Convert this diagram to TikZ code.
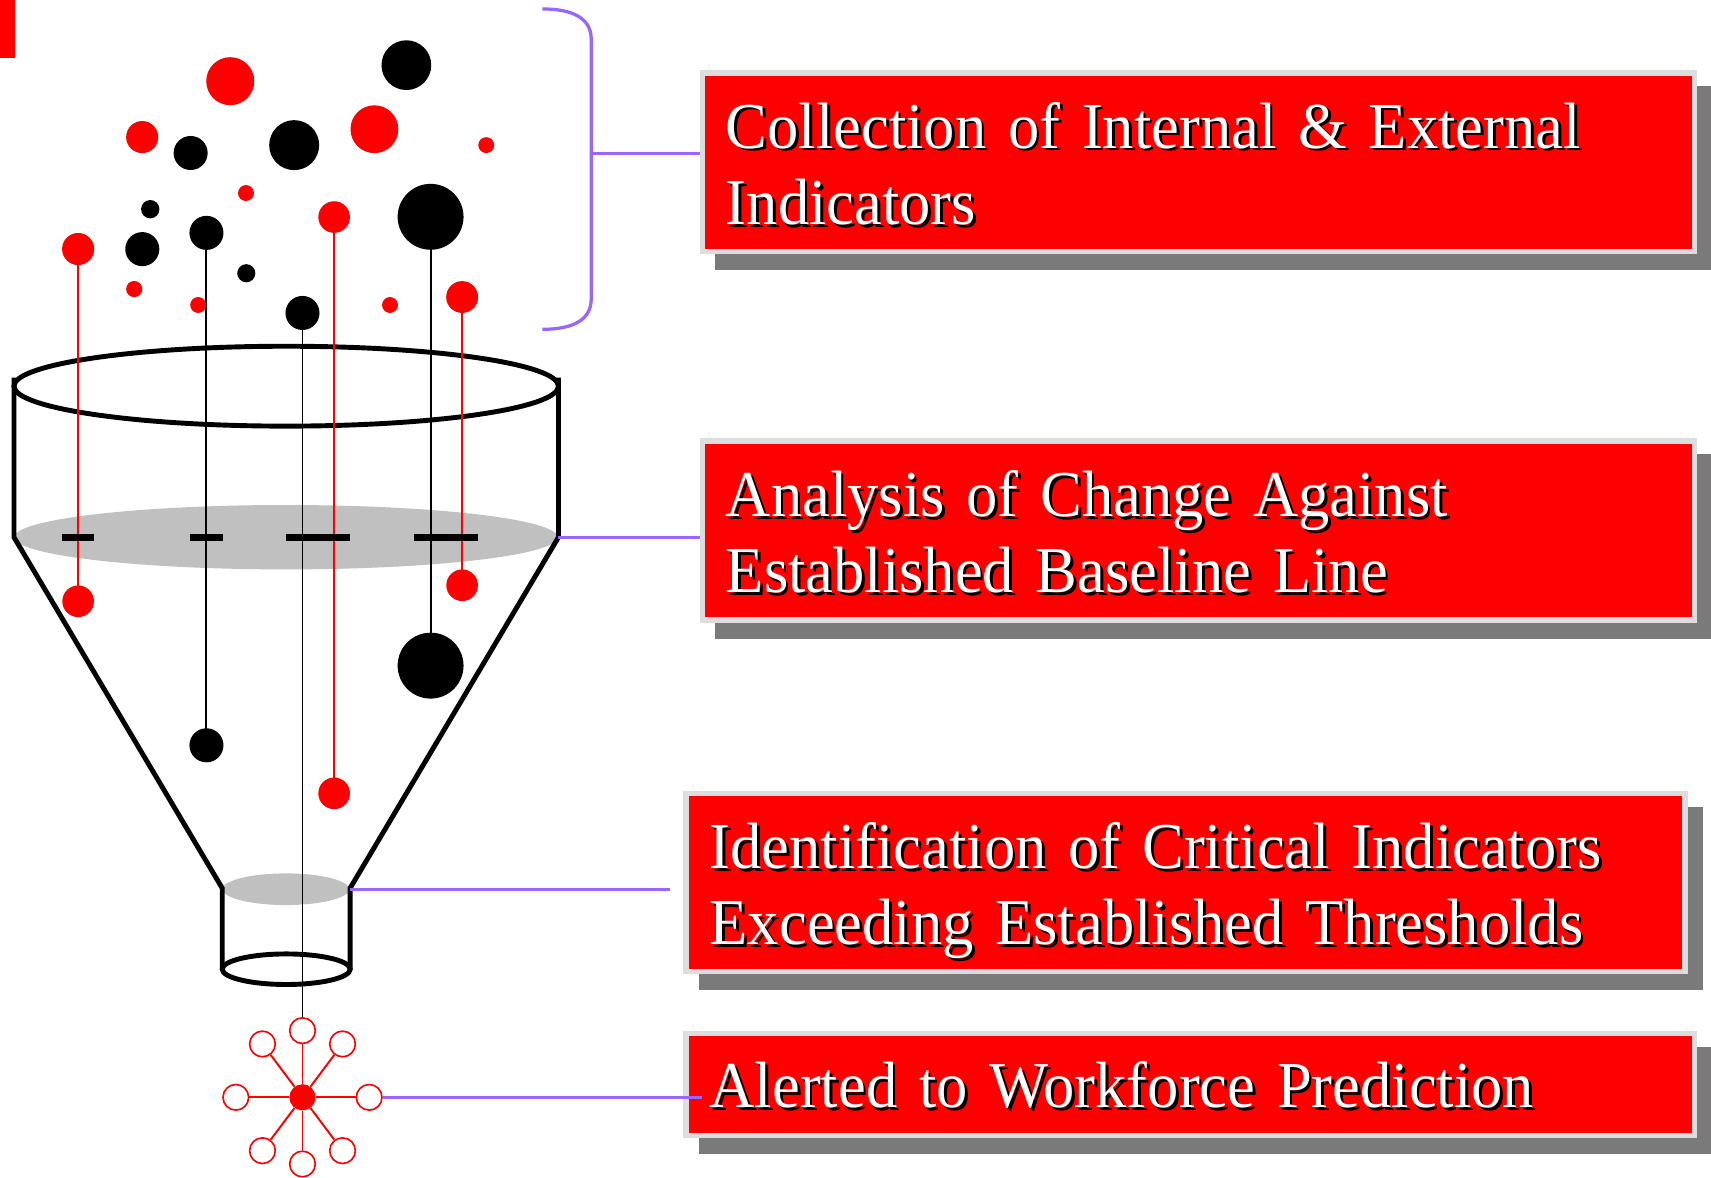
\documentclass[tikz,border=0pt]{standalone}
\usepackage{fontspec}
\setmainfont{Liberation Serif}[FakeStretch=0.955]
\usetikzlibrary{backgrounds}
\definecolor{linkpurple}{HTML}{9966FF}
\definecolor{boxrim}{HTML}{DDDDDD}
\definecolor{bandgray}{HTML}{C0C0C0}
\newcommand{\labelfont}{\fontsize{60}{70}\selectfont\spaceskip 12pt\relax}
\newcommand{\boxlabel}[3]{%
  \node[boxshade] (#1s) at ([xshift=26.5pt,yshift=#2-2.5pt]#1.west) {#3};
  \node[boxtext] (#1t) at ([xshift=24pt,yshift=#2]#1.west) {#3};}

\begin{document}
\begin{tikzpicture}[x=1pt, y=-1pt,
    rim/.style={line width=4.5pt},
    stick/.style={line width=1.8pt},
    link/.style={draw=linkpurple, line width=3pt},
    infobox/.style={draw=boxrim, line width=5.2pt, fill=red, inner sep=0pt},
    boxtext/.style={anchor=base west, inner sep=0pt, text width=880pt, align=left,
      font=\labelfont, text=white},
    boxshade/.style={boxtext, text=black},
    leaf/.style={circle, draw=red, line width=1.5pt, fill=white, minimum size=23.5pt, inner sep=0pt},
    hub/.style={circle, fill=red, minimum size=24pt, inner sep=0pt}]
\useasboundingbox (0,0) rectangle (1568,1079);

\fill[red] (0,0) rectangle (14,53);

\fill[bandgray] (262,492.3) ellipse (249pt and 29.5pt);
\fill[bandgray] (262,814.9) ellipse (58pt and 14.5pt);
\draw[rim] (262.3,353.9) ellipse (249.5pt and 36.6pt);
\draw[rim] (12.8,346) -- (12.8,492.3) -- (203.7,814) -- (203.7,888.2);
\draw[rim] (511.8,346) -- (511.8,492.3) -- (320.8,814) -- (320.8,888.2);
\draw[rim] (262.3,888.2) ellipse (58.6pt and 14pt);

\node[hub] (hub) at (277.2,1005.6) {};
\node[leaf] (r0) at (338.3,1005.6) {};
\node[leaf] (top) at (277.2,944.5) {};
\node[leaf] (bot) at (277.2,1066.7) {};
\node[leaf] (lft) at (216.1,1005.6) {};
\node[leaf] (ul) at (240.5,956.7) {};
\node[leaf] (ur) at (313.9,956.7) {};
\node[leaf] (ll) at (240.5,1054.5) {};
\node[leaf] (lr) at (313.9,1054.5) {};
\foreach \n in {r0,top,bot,lft,ul,ur,ll,lr}
  \draw[red, stick] (hub) -- (\n);

\draw[red, stick] (71.6,228.2) -- (71.6,551);
\draw[stick] (189.2,213.4) -- (189.2,683);
\draw[stick] (277.2,286.8) -- (top.north);
\draw[red, stick] (306.2,198.9) -- (306.2,727);
\draw[stick] (394.6,198.7) -- (394.6,610);
\draw[red, stick] (423.5,272.2) -- (423.5,536.3);

\fill[red] (211,74.4) circle (22pt);
\fill (372.4,59.7) circle (22.8pt);
\fill[red] (130.3,125.6) circle (14.7pt);
\fill (174.7,140.2) circle (15.6pt);
\fill (269.6,133) circle (22.9pt);
\fill[red] (343.1,118.4) circle (21.9pt);
\fill[red] (445.6,133) circle (7.3pt);
\fill (137.7,191.7) circle (8.4pt);
\fill[red] (225.4,176.9) circle (7.3pt);
\fill[red] (306.2,198.9) circle (14.5pt);
\fill (394.6,198.7) circle (30.2pt);
\fill[red] (71.6,228.2) circle (14.7pt);
\fill (130.4,228.3) circle (15.6pt);
\fill (189.2,213.4) circle (15.6pt);
\fill (225.7,250.4) circle (8.3pt);
\fill[red] (123,264.9) circle (7.4pt);
\fill[red] (181.6,279.5) circle (7.3pt);
\fill (277.2,286.8) circle (15.6pt);
\fill[red] (357.4,279.5) circle (7.3pt);
\fill[red] (423.5,272.2) circle (14.6pt);

\fill[red] (71.6,551) circle (14.5pt);
\fill (189.2,683) circle (15.6pt);
\fill[red] (306.2,727) circle (14.5pt);
\fill (394.6,610) circle (30.2pt);
\fill[red] (423.5,536.3) circle (14.5pt);

\draw[line width=6.5pt] (56.6,492.4) -- (86.6,492.4);
\draw[line width=6.5pt] (174.2,492.4) -- (204.2,492.4);
\draw[line width=6.5pt] (262.2,492.4) -- (321.2,492.4);
\draw[line width=6.5pt] (379.6,492.4) -- (438.5,492.4);

\node[infobox, minimum width=909.3pt, minimum height=163.8pt] (b1) at (1098.3,148.6) {};
\node[infobox, minimum width=909.3pt, minimum height=163.8pt] (b2) at (1098.3,486.2) {};
\node[infobox, minimum width=915.3pt, minimum height=163pt] (b3) at (1086.5,808.8) {};
\node[infobox, minimum width=924.1pt, minimum height=93.5pt] (b4) at (1090.9,993.9) {};
\begin{scope}[on background layer]
  \foreach \b in {b1,b2,b3,b4}
    \fill[black!52] ([shift={(14pt,-14.5pt)}]\b.south west) rectangle ([shift={(14pt,-14.5pt)}]\b.north east);
\end{scope}

\boxlabel{b1}{12.8pt}{Collection of Internal \& External\\Indicators}
\boxlabel{b2}{12.8pt}{Analysis of Change Against\\Established Baseline Line}
\boxlabel{b3}{13pt}{Identification of Critical Indicators\\Exceeding Established Thresholds}
\boxlabel{b4}{-21pt}{Alerted to Workforce Prediction}

\draw[link] (497,8.2) .. controls (527,8.2) and (541.8,18) .. (541.8,36) -- (541.8,274)
  .. controls (541.8,292) and (527,301.8) .. (497,301.8);
\coordinate (bmid) at (541.8,140.5);
\draw[link] (bmid) -- (bmid -| b1.west);
\coordinate (bandR) at (511.8,492.4);
\draw[link] (bandR) -- (bandR -| b2.west);
\coordinate (neckR) at (320.8,815);
\coordinate (neckEnd) at (614,815);
\draw[link] (neckR) -- (neckEnd);
\path (b4.west |- r0.east) ++(17pt,0) coordinate (alertEnd);
\draw[link] (r0.east) -- (alertEnd);
\end{tikzpicture}
\end{document}
